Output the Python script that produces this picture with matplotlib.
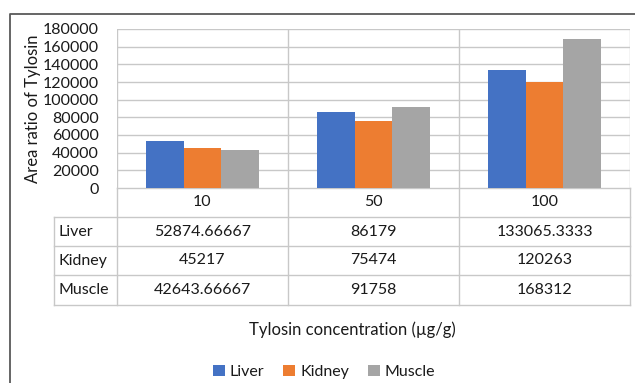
import matplotlib.pyplot as plt
from matplotlib.lines import Line2D

# data
concentrations = ["10", "50", "100"]
tissues = ["Liver", "Kidney", "Muscle"]
liver = [52874.66667, 86179, 133065.3333]
kidney = [45217, 75474, 120263]
muscle = [42643.66667, 91758, 168312]
series = [liver, kidney, muscle]
colors = ["#4472C4", "#ED7D31", "#A5A5A5"]
yticks = list(range(0, 180001, 20000))

plt.rcParams["font.family"] = ["Lato", "DejaVu Sans"]
FS = 11.5
GRID = "#C8C8C8"
TXT = "#1a1a1a"

W, H = 635, 383
fig = plt.figure(figsize=(W / 100, H / 100), dpi=100)


def px_axes(x0, y0, x1, y1):
    return fig.add_axes([x0 / W, 1 - y1 / H, (x1 - x0) / W, (y1 - y0) / H])


# overlay in pixel coordinates for frame + table
bg = fig.add_axes([0, 0, 1, 1])
bg.set_xlim(0, W)
bg.set_ylim(H, 0)
bg.axis("off")
bg.add_line(Line2D([10, 10, W], [H, 14, 14], color="#595959", lw=1.3))

# plot area
PL, PR, PT, PB = 117, 630, 29, 188
ax = px_axes(PL, PT, PR, PB)
n = len(concentrations)
bw = 0.222
for k, (vals, c) in enumerate(zip(series, colors)):
    ax.bar([i + (k - 1) * bw for i in range(n)], vals, width=bw, color=c,
           label=tissues[k], zorder=3)
ax.set_xlim(-0.5, n - 0.5)
ax.set_ylim(0, 180000)
ax.set_yticks(yticks)
ax.set_yticklabels([str(t) for t in yticks], fontsize=FS, color=TXT)
ax.set_xticks([])
ax.yaxis.grid(True, color=GRID, lw=1, zorder=0)
for b in range(n + 1):
    ax.axvline(b - 0.5, color=GRID, lw=1, zorder=1)
for s in ax.spines.values():
    s.set_visible(False)
ax.tick_params(axis="y", length=0, pad=13)
ax.set_ylabel("Area ratio of Tylosin", fontsize=FS + 0.5, labelpad=1,
              color=TXT)

# data table
TL = 54
rows_y = [188, 217, 246, 275, 305]
col_x = [PL + (PR - PL) * j / n for j in range(n + 1)]
bg.add_line(Line2D([PL, PR], [rows_y[0]] * 2, color=GRID, lw=1))
for y in rows_y[1:]:
    bg.add_line(Line2D([TL, PR], [y, y], color=GRID, lw=1))
bg.add_line(Line2D([TL, TL], [rows_y[1], rows_y[-1]], color=GRID, lw=1))
for x in col_x:
    bg.add_line(Line2D([x, x], [rows_y[0], rows_y[-1]], color=GRID, lw=1))

for j, cat in enumerate(concentrations):
    cx = (col_x[j] + col_x[j + 1]) / 2
    bg.text(cx, (rows_y[0] + rows_y[1]) / 2, cat, ha="center", va="center",
            fontsize=FS, color=TXT)
    for r, vals in enumerate(series):
        cy = (rows_y[r + 1] + rows_y[r + 2]) / 2
        bg.text(cx, cy, f"{vals[j]:.10g}", ha="center", va="center",
                fontsize=FS, color=TXT)
for r, name in enumerate(tissues):
    cy = (rows_y[r + 1] + rows_y[r + 2]) / 2
    bg.text(TL + 4, cy, name, ha="left", va="center", fontsize=FS, color=TXT)

bg.text(352, 330, "Tylosin concentration (\u00b5g/g)", ha="center",
        va="center", fontsize=FS + 0.5, color=TXT)

handles, labels = ax.get_legend_handles_labels()
leg = fig.legend(handles, labels, loc="center",
                 bbox_to_anchor=(324 / W, 1 - 372 / H), ncol=3, frameon=False,
                 fontsize=FS, handlelength=0.75, handleheight=0.75,
                 handletextpad=0.3, columnspacing=1.2)
for t in leg.get_texts():
    t.set_color(TXT)

fig.savefig("out.png", dpi=100, facecolor="white")
